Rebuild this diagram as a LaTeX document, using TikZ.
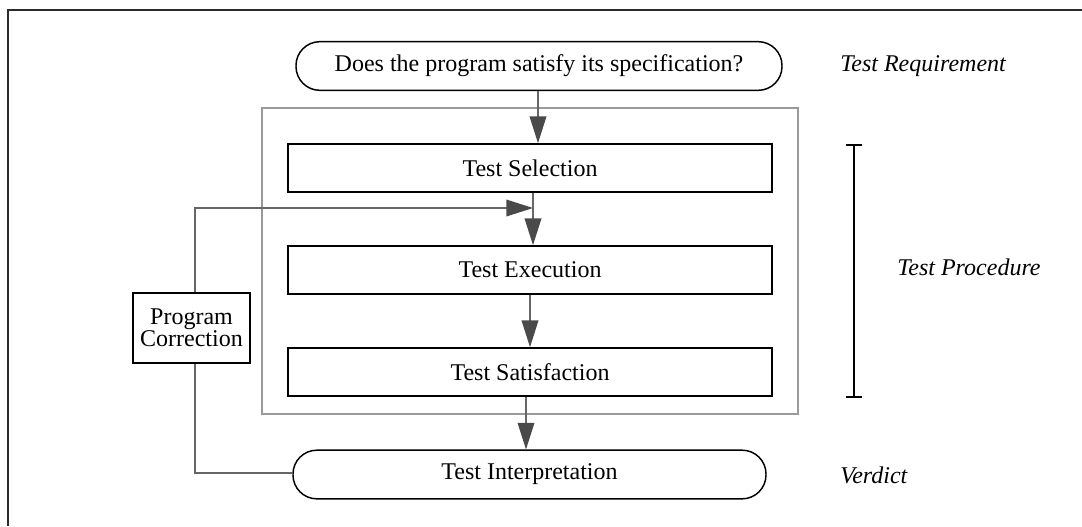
\documentclass[tikz,border=0pt]{standalone}
\usepackage{fontspec}
\setmainfont{Liberation Serif}
\usetikzlibrary{arrows.meta,calc}
\definecolor{framecol}{HTML}{2B2B2B}
\definecolor{groupcol}{HTML}{9A9A9A}
\definecolor{linkcol}{HTML}{666666}
\definecolor{headcol}{HTML}{4A4A4A}
\tikzset{
  txt/.style={font=\fontsize{18}{14.5}\selectfont, inner sep=0pt},
  stepbox/.style={draw=black, line width=1.3pt, minimum width=363pt, minimum height=36pt, txt},
  terminal/.style={draw=black, line width=1.1pt, rounded corners=17.9pt, minimum height=36.5pt, txt},
  corrbox/.style={draw=black, line width=1.1pt, minimum width=87.5pt, minimum height=52.5pt, align=center, txt},
  link/.style={draw=linkcol, line width=1pt},
  flow/.style={link, -{Triangle[length=20pt, width=12.5pt, color=headcol]}},
  tag/.style={font=\fontsize{18}{20}\selectfont\itshape, anchor=west, inner sep=0pt},
}
\begin{document}
\begin{tikzpicture}[x=0.75pt, y=-0.75pt]
  \useasboundingbox (0,0) rectangle (1082,526);
  % page frame: top and left edges
  \draw[framecol, line width=1.6pt] (8,526) -- (8,10) -- (1082,10);

  % grouping box around the test procedure steps
  \draw[groupcol, line width=1.2pt] (262,108) rectangle (798,414);

  % nodes
  \node[terminal, minimum width=364.5pt] (req) at (539,66) {Does the program satisfy its specification?};
  \node[stepbox] (sel) at (530,168) {Test Selection};
  \node[stepbox] (exe) at (530,270) {Test Execution};
  \node[stepbox] (sat) at (530,372) {Test Satisfaction};
  \node[terminal, minimum width=354.75pt] (int) at (529.5,474.5) {Test Interpretation};
  \node[corrbox] (corr) at (191.5,328) {Program\\Correction};

  % right-hand annotations
  \node[tag] (lreq) at (840,66) {Test Requirement};
  \node[tag] (lproc) at (897,267) {Test Procedure};
  \node[tag] (lver) at (840,475) {Verdict};
  \coordinate (btop) at (854,145);
  \coordinate (bbot) at (854,397);
  \draw[black, line width=1.1pt] (btop) -- (bbot)
    ($(btop)+(-8,0)$) -- ($(btop)+(8,0)$)
    ($(bbot)+(-8,0)$) -- ($(bbot)+(8,0)$);

  % main flow
  \draw[flow] (req.south -| 538,0) -- (sel.north -| 538,0);
  \draw[flow] (sel.south -| 533,0) -- (exe.north -| 533,0);
  \draw[flow] (exe.south -| 530,0) -- (sat.north -| 530,0);
  \draw[flow] (sat.south -| 526,0) -- (int.north -| 526,0);

  % feedback loop through program correction
  \coordinate (fbin) at (533,208);
  \draw[link] (int.west |- 0,473) -- (195,473) -- (corr.south -| 195,0);
  \draw[flow] (corr.north -| 195,0) -- (195,208) -- (fbin);
\end{tikzpicture}
\end{document}
